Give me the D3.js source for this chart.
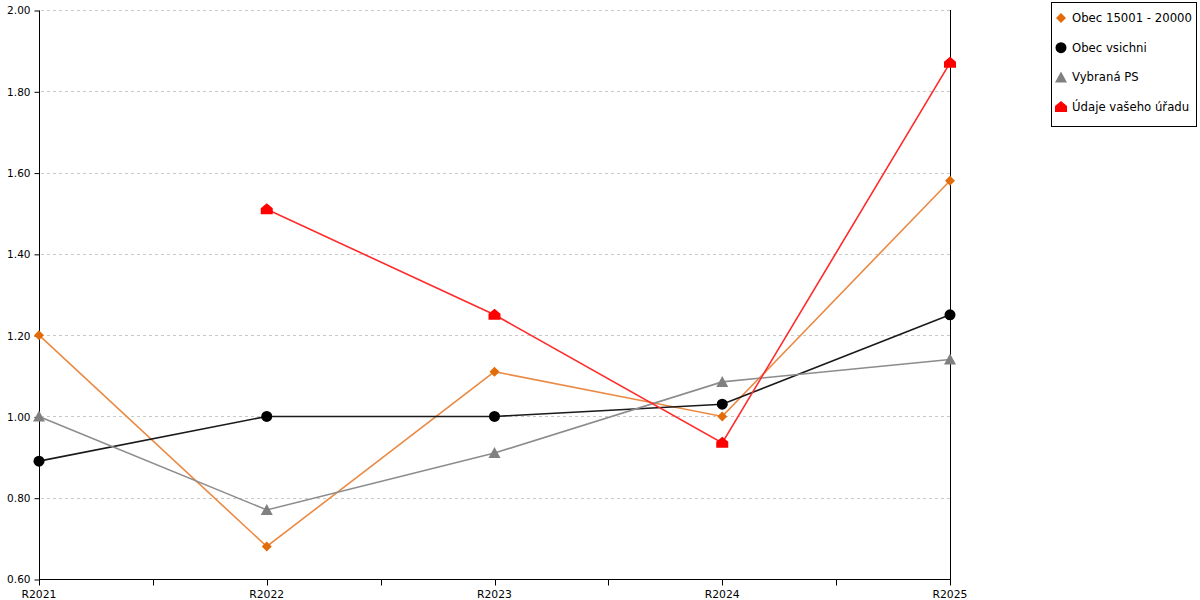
<!DOCTYPE html>
<html>
<head>
<meta charset="utf-8">
<script src="https://cdn.jsdelivr.net/npm/d3@7"></script>
<style>
  body { margin: 0; background: #fff; }
  text { font-family: "DejaVu Sans", Verdana, sans-serif; font-size: 11px; fill: #000; }
</style>
</head>
<body>
<svg id="chart" width="1200" height="600"></svg>
<script>
// chart data
const categories = ['R2021', 'R2022', 'R2023', 'R2024', 'R2025'];
const obec15001 = [1.20, 0.68, 1.11, 1.00, 1.58];
const obecVsichni = [0.89, 1.00, 1.00, 1.03, 1.25];
const vybranaPS = [1.00, 0.77, 0.91, 1.085, 1.14];
const udajeUradu = [null, 1.51, 1.25, 0.935, 1.87];
const yTicks = [0.6, 0.8, 1.0, 1.2, 1.4, 1.6, 1.8, 2.0];

const series = [
  { name: 'Obec 15001 - 20000', values: obec15001, color: '#e36c0a', line: '#ea8a45', shape: 'diamond' },
  { name: 'Obec vsichni', values: obecVsichni, color: '#000000', line: '#1a1a1a', shape: 'circle' },
  { name: 'Vybraná PS', values: vybranaPS, color: '#808080', line: '#8c8c8c', shape: 'triangle' },
  { name: 'Údaje vašeho úřadu', values: udajeUradu, color: '#ff0000', line: '#ff2a2a', shape: 'house' }
];

const svg = d3.select('#chart');
const plotL = 39, plotR = 950, plotT = 10, plotB = 579;

const x = d3.scalePoint().domain(categories).range([plotL, plotR]);
const y = d3.scaleLinear().domain([0.6, 2.0]).range([plotB, plotT]);

// dashed grid
svg.append('g').selectAll('line')
  .data(yTicks.slice(1))
  .enter()
  .append('line')
  .attr('x1', plotL + 2).attr('x2', plotR)
  .attr('y1', d => Math.round(y(d)) + 0.5).attr('y2', d => Math.round(y(d)) + 0.5)
  .attr('stroke', '#c8c8c8')
  .attr('stroke-dasharray', '3,3');

// y axis
const yAxis = svg.append('g')
  .attr('transform', `translate(${plotL + 0.5},0.5)`)
  .call(d3.axisLeft(y).tickValues(yTicks).tickFormat(d3.format('.2f')).tickSize(5).tickPadding(4));
yAxis.select('.domain').attr('d', `M0,${plotT}V${plotB}`);
yAxis.selectAll('text').style('font-size', '10.5px').style('font-family', '"DejaVu Sans", Verdana, sans-serif');

// right border
svg.append('line')
  .attr('x1', plotR + 0.5).attr('x2', plotR + 0.5)
  .attr('y1', plotT).attr('y2', plotB + 6)
  .attr('stroke', '#000');

// x axis with ticks at categories and midpoints
const step = x.step();
const xTickPos = d3.range(0, categories.length * 2 - 1).map(i => plotL + i * step / 2);
const xAxisG = svg.append('g').attr('transform', `translate(0,${plotB + 0.5})`);
xAxisG.append('line').attr('x1', plotL).attr('x2', plotR + 1).attr('stroke', '#000');
xAxisG.selectAll('.tk')
  .data(xTickPos)
  .enter()
  .append('line')
  .attr('x1', d => Math.round(d) + 0.5).attr('x2', d => Math.round(d) + 0.5)
  .attr('y1', 0).attr('y2', 6)
  .attr('stroke', '#000');
xAxisG.selectAll('text')
  .data(categories)
  .enter()
  .append('text')
  .attr('x', d => x(d))
  .attr('y', 18)
  .attr('text-anchor', 'middle')
  .style('font-size', '10.8px')
  .text(d => d);

// marker shapes
function markerPath(shape) {
  switch (shape) {
    case 'diamond': return 'M0,-5L5,0L0,5L-5,0Z';
    case 'circle': return d3.symbol(d3.symbolCircle, 95)();
    case 'triangle': return 'M0,-6L6,5L-6,5Z';
    case 'house': return 'M0,-6L6,-1L6,5L-6,5L-6,-1Z';
  }
}

const lineGen = d3.line()
  .defined(d => d.v != null)
  .x(d => x(d.c))
  .y(d => y(d.v));

series.forEach(s => {
  const pts = s.values.map((v, i) => ({ c: categories[i], v: v }));
  svg.append('path')
    .attr('fill', 'none')
    .attr('stroke', s.line)
    .attr('stroke-width', 1.6)
    .attr('d', lineGen(pts));
});

series.forEach(s => {
  svg.append('g').selectAll('path')
    .data(s.values.map((v, i) => ({ c: categories[i], v: v })).filter(d => d.v != null))
    .enter()
    .append('path')
    .attr('transform', d => `translate(${x(d.c)},${y(d.v)})`)
    .attr('d', markerPath(s.shape))
    .attr('fill', s.color);
});

// legend
const lg = svg.append('g');
lg.append('rect')
  .attr('x', 1051.5).attr('y', 2.5)
  .attr('width', 145).attr('height', 124)
  .attr('fill', '#fff').attr('stroke', '#000');
series.forEach((s, i) => {
  const ly = 18 + i * 29.7;
  lg.append('path')
    .attr('transform', `translate(1061,${ly})`)
    .attr('d', markerPath(s.shape))
    .attr('fill', s.color);
  lg.append('text')
    .attr('x', 1072).attr('y', ly + 4)
    .style('font-size', '11.7px')
    .text(s.name);
});
</script>
</body>
</html>
